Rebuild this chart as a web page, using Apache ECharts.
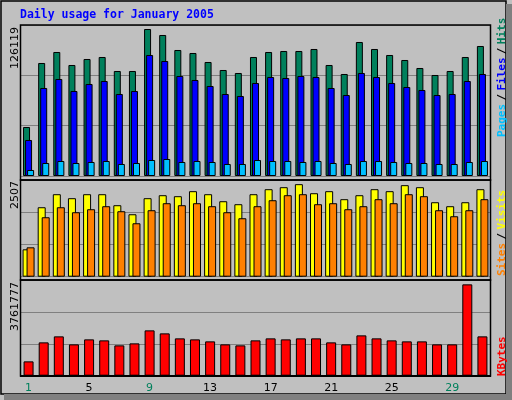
<!DOCTYPE html>
<html><head><meta charset="utf-8">
<script src="https://cdn.jsdelivr.net/npm/echarts@6/dist/echarts.min.js"></script>
<style>html,body{margin:0;padding:0;background:#c0c0c0}#c{width:512px;height:400px}</style>
</head><body><div id="c"></div>
<script>
const days = ['1','2','3','4','5','6','7','8','9','10','11','12','13','14','15','16','17','18','19','20','21','22','23','24','25','26','27','28','29','30','31'];
const weekend = [1,2,8,9,15,16,22,23,29,30];
const hits = [42042,96954,106392,95238,100386,102102,90090,90090,126119,120978,108108,105534,97812,90948,88374,102102,106392,107250,107250,108966,95238,87516,114972,108966,103818,99528,92664,86658,90090,102102,111540];
const files = [30888,75504,83226,72930,78936,81510,70356,72930,103818,98670,85800,82368,77220,70356,68640,79794,84942,84084,85800,84942,75504,69498,88374,84942,79794,76362,73788,69498,70356,81510,87516];
const pages = [5148,11154,12870,11154,12012,12870,10296,11154,13728,14586,12012,12870,12012,10296,10296,13728,12870,12870,12012,12870,11154,10296,12870,12870,12012,11154,11154,10296,10296,12012,12870];
const visits = [742,1882,2235,2127,2235,2235,1937,1692,2127,2208,2181,2317,2235,2045,1964,2235,2371,2425,2507,2262,2317,2100,2208,2371,2317,2480,2425,2018,1910,2018,2371];
const sites = [796,1611,1882,1747,1828,1910,1774,1448,1801,1991,1937,1991,1910,1747,1584,1910,2072,2208,2235,1964,1991,1828,1910,2100,1991,2235,2181,1801,1638,1801,2100];
const kbytes = [590347,1372900,1620022,1290526,1496461,1455274,1249339,1331713,1867144,1743583,1537648,1496461,1414087,1290526,1249339,1455274,1537648,1496461,1537648,1537648,1372900,1290526,1661209,1537648,1455274,1414087,1414087,1290526,1290526,3761777,1620022];
const maxLabels = ['126119','2507','3761777'];
const title = 'Daily usage for January 2005';

const chart = echarts.init(document.getElementById('c'));
const grids = [
  {left:21, top:25, width:469, height:151},
  {left:21, top:180, width:469, height:96.7},
  {left:21, top:280.7, width:469, height:95}
];
const yMax = [129552, 2620, 3913000];
function xa(i, show){
  return {type:'category', gridIndex:i, data:days, boundaryGap:true,
    axisLine:{show:false}, axisTick:{show:false},
    axisLabel:{show:show, margin:7, fontFamily:'DejaVu Sans', fontSize:11,
      formatter:v=>weekend.includes(+v)?'{w|'+v+'}':'{n|'+v+'}',
      rich:{w:{color:'#00805c',fontFamily:'DejaVu Sans',fontSize:11},n:{color:'#000',fontFamily:'DejaVu Sans',fontSize:11}}}};
}
function ya(i){
  return {type:'value', gridIndex:i, min:0, max:yMax[i], interval:yMax[i]/3,
    axisLine:{show:false}, axisTick:{show:false}, axisLabel:{show:false},
    splitLine:{show:true, lineStyle:{color:'#808080', width:1}}};
}
const bs = (name, data, color, xi, w, gap) => ({type:'bar', name, data, xAxisIndex:xi, yAxisIndex:xi,
  barWidth:w, barGap:gap, itemStyle:{color, borderColor:'#000', borderWidth:1}, animation:false, silent:true});

const frame = (y, h) => ({type:'rect', shape:{x:20.5, y:y, width:470, height:h}, style:{fill:null, stroke:'#000', lineWidth:1.5}, z:10});
const vtext = (x, y, rich, text, align) => ({type:'text', x, y, rotation:Math.PI/2, z:20,
  style:{text, rich, textAlign:align, textVerticalAlign:'middle', font:'11px "DejaVu Sans"', fill:'#000'}});
const mono = c => ({fill:c, font:'bold 11px "DejaVu Sans Mono"'});

chart.setOption({
  backgroundColor:'#c0c0c0',
  animation:false,
  grid:grids,
  xAxis:[xa(0,false), xa(1,false), xa(2,true)],
  yAxis:[ya(0), ya(1), ya(2)],
  series:[
    bs('Hits', hits, '#00805c', 0, 7, '-71%'),
    bs('Files', files, '#0000ff', 0, 7, '-71%'),
    bs('Pages', pages, '#00c0ff', 0, 7, '-71%'),
    bs('Visits', visits, '#ffff00', 1, 8, '-50%'),
    bs('Sites', sites, '#ff8000', 1, 8, '-50%'),
    bs('KBytes', kbytes, '#ff0000', 2, 10, '0%')
  ],
  graphic:[
    {type:'rect', shape:{x:1, y:1, width:505, height:393}, style:{fill:null, stroke:'#000', lineWidth:1.5}, z:5},
    {type:'rect', shape:{x:506, y:4, width:6, height:396}, style:{fill:'#808080'}, z:5},
    {type:'rect', shape:{x:4, y:394, width:508, height:6}, style:{fill:'#808080'}, z:5},
    {type:'text', x:20, y:15, z:20, style:{text:title, fill:'#0000ff', font:'bold 11.5px "DejaVu Sans Mono"', textVerticalAlign:'middle'}},
    frame(25,155), frame(180,100), frame(280,96),
    {type:'line', shape:{x1:20, y1:376, x2:491, y2:376}, style:{stroke:'#000', lineWidth:2}, z:11},
    vtext(15, 27, null, maxLabels[0], 'right'),
    vtext(15, 181, null, maxLabels[1], 'right'),
    vtext(15, 282, null, maxLabels[2], 'right'),
    {type:'text', x:502, y:137, rotation:Math.PI/2, z:20, style:{text:'{p|Pages} {s|/} {f|Files} {s|/} {h|Hits}', textAlign:'left', textVerticalAlign:'middle',
      rich:{p:mono('#00c0ff'), s:mono('#000'), f:mono('#0000ff'), h:mono('#00805c')}}},
    {type:'text', x:502, y:276, rotation:Math.PI/2, z:20, style:{text:'{o|Sites} {s|/} {y|Visits}', textAlign:'left', textVerticalAlign:'middle',
      rich:{o:mono('#ff8000'), s:mono('#000'), y:mono('#ffff00')}}},
    {type:'text', x:502, y:376, rotation:Math.PI/2, z:20, style:{text:'KBytes', textAlign:'left', textVerticalAlign:'middle', fill:'#ff0000', font:'bold 11px "DejaVu Sans Mono"'}}
  ]
});
</script></body></html>
